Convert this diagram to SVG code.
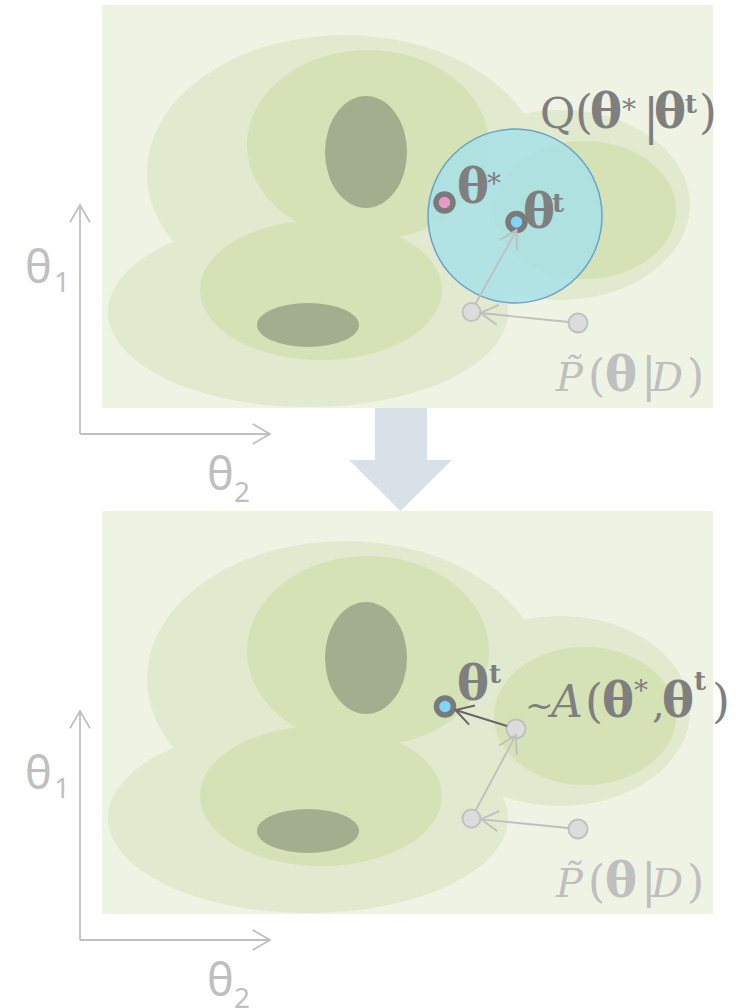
<svg xmlns="http://www.w3.org/2000/svg" xmlns:xlink="http://www.w3.org/1999/xlink" width="744" height="1008" viewBox="0 0 744 1008">
<style>
.light{fill:#e1e9ce}
.mid{fill:#d4e2b5}
.dark{fill:#a2ae8e}
.ax{stroke:#c0c0c0;stroke-width:1.8;fill:none}
.axl{font-family:"Noto Sans","DejaVu Sans",sans-serif;fill:#bfbfbf}
.m{font-family:"DejaVu Serif","Liberation Serif",serif;font-size:40px}
.b{font-weight:bold;font-size:48px}
.i{font-style:italic}
.g1{fill:#7f7f7f}
.g2{fill:#bfbfbf}
.ring{stroke:#7a7a7a;stroke-width:5.5}
.gdot{fill:#dcdcdc;stroke:#c0c0c0;stroke-width:2}
.lc{stroke:#bfbfbf;stroke-width:1.8;fill:none}
.dc{stroke:#666666;stroke-width:2;fill:none}
</style>
<defs>
<marker id="ahL" markerUnits="userSpaceOnUse" markerWidth="24" markerHeight="24" refX="20" refY="12" orient="auto" overflow="visible">
<path d="M2.7,2 L20,12 L2.7,22" fill="none" stroke="#bfbfbf" stroke-width="1.8"/>
</marker>
<marker id="ahD" markerUnits="userSpaceOnUse" markerWidth="24" markerHeight="24" refX="20" refY="12" orient="auto" overflow="visible">
<path d="M2.7,2 L20,12 L2.7,22" fill="none" stroke="#666666" stroke-width="2"/>
</marker>
<g id="contours">
<rect x="102" y="5" width="611" height="403" fill="#eff3e4"/>
<ellipse class="light" cx="345" cy="173" rx="198" ry="138"/>
<ellipse class="light" cx="308" cy="312" rx="200" ry="95"/>
<ellipse class="light" cx="560" cy="205" rx="130" ry="95"/>
<ellipse class="mid" cx="368" cy="145" rx="121" ry="95"/>
<ellipse class="mid" cx="321" cy="290" rx="121" ry="70"/>
<ellipse class="mid" cx="585" cy="210" rx="91" ry="69"/>
<ellipse class="dark" cx="366" cy="152" rx="41" ry="56"/>
<ellipse class="dark" cx="308" cy="325" rx="51" ry="22"/>
</g>
<g id="axes">
<line class="ax" x1="80" y1="434" x2="80" y2="205" marker-end="url(#ahL)"/>
<line class="ax" x1="80" y1="434" x2="270" y2="434" marker-end="url(#ahL)"/>
<text class="axl" x="25" y="283" font-size="45">θ</text>
<text class="axl" x="54" y="292" font-size="28">1</text>
<text class="axl" x="207" y="490" font-size="45">θ</text>
<text class="axl" x="234" y="502" font-size="28">2</text>
</g>
<g id="ptilde">
<text class="m g2" y="391"><tspan x="556" class="i">P̃</tspan><tspan x="588" font-size="44">(</tspan><tspan x="605" class="b">θ</tspan><tspan x="641" font-size="46">|</tspan><tspan x="651" class="i">D</tspan><tspan x="687" font-size="44">)</tspan></text>
</g>
</defs>

<g id="transition-arrow">
<polygon points="375,408 427,408 427,460 452,460 400.5,511 349,460 375,460" fill="#d9e1e8"/>
</g>

<g id="panel-top">
<use xlink:href="#contours" href="#contours"/>
<use xlink:href="#axes" href="#axes"/>
<g id="proposal-circle">
<circle cx="515" cy="216" r="87" fill="#a8e0e8" fill-opacity="0.85" stroke="#6aa3c8" stroke-width="1.5"/>
<text class="m g1" y="128"><tspan x="540" font-size="43">Q</tspan><tspan x="575" font-size="46">(</tspan><tspan x="590" class="b">θ</tspan><tspan x="622" y="119" font-size="28">*</tspan><tspan x="643" y="134" font-size="48">|</tspan><tspan x="654" y="128" class="b">θ</tspan><tspan x="685" y="113" font-size="26" font-weight="bold">t</tspan><tspan x="699" y="128" font-size="46">)</tspan></text>
</g>
<g id="theta-star-top">
<circle class="ring" cx="444.5" cy="202.5" r="8.5" fill="#e899c6"/>
<text class="m g1" y="203"><tspan x="457" class="b">θ</tspan><tspan x="487" y="193" font-size="28">*</tspan></text>
</g>
<g id="theta-t-top">
<circle class="ring" cx="516.5" cy="222" r="8.5" fill="#7fd5f7"/>
<text class="m g1" y="228"><tspan x="523" class="b">θ</tspan><tspan x="552" y="212" font-size="26" font-weight="bold">t</tspan></text>
</g>
<g id="sample-a-top"><circle class="gdot" cx="471.5" cy="312" r="9"/></g>
<g id="sample-b-top"><circle class="gdot" cx="578" cy="323" r="9.5"/></g>
<use xlink:href="#ptilde" href="#ptilde"/>
</g>

<g id="panel-bottom">
<use xlink:href="#contours" href="#contours" y="506"/>
<use xlink:href="#axes" href="#axes" y="506"/>
<g id="theta-t-bottom">
<circle class="ring" cx="445" cy="706.5" r="8.5" fill="#7fd5f7"/>
<text class="m g1" y="700"><tspan x="457" class="b">θ</tspan><tspan x="489" y="683" font-size="26" font-weight="bold">t</tspan></text>
</g>
<g id="sample-c-bottom"><circle class="gdot" cx="516" cy="729" r="9.5"/></g>
<g id="sample-a-bottom"><circle class="gdot" cx="471.5" cy="818.5" r="9"/></g>
<g id="sample-b-bottom"><circle class="gdot" cx="578" cy="829" r="9.5"/></g>
<text class="m g1" y="717"><tspan x="525" font-size="34">~</tspan><tspan x="551" font-size="44" class="i">A</tspan><tspan x="585" font-size="46">(</tspan><tspan x="602" class="b">θ</tspan><tspan x="634" y="700" font-size="28">*</tspan><tspan x="652" y="717">,</tspan><tspan x="662" class="b">θ</tspan><tspan x="694" y="690" font-size="26" font-weight="bold">t</tspan><tspan x="712" y="717" font-size="46">)</tspan></text>
<use xlink:href="#ptilde" href="#ptilde" y="506"/>
</g>

<g id="connectors">
<line class="lc" x1="568.5" y1="322" x2="480.5" y2="313" marker-end="url(#ahL)"/>
<line class="lc" x1="475.4" y1="304" x2="516.5" y2="230" marker-end="url(#ahL)"/>
<line class="lc" x1="568.5" y1="828" x2="481" y2="819.3" marker-end="url(#ahL)"/>
<line class="lc" x1="475.7" y1="810.2" x2="516" y2="735" marker-end="url(#ahL)"/>
<line class="dc" x1="507" y1="726" x2="455.5" y2="710" marker-end="url(#ahD)"/>
</g>
</svg>
